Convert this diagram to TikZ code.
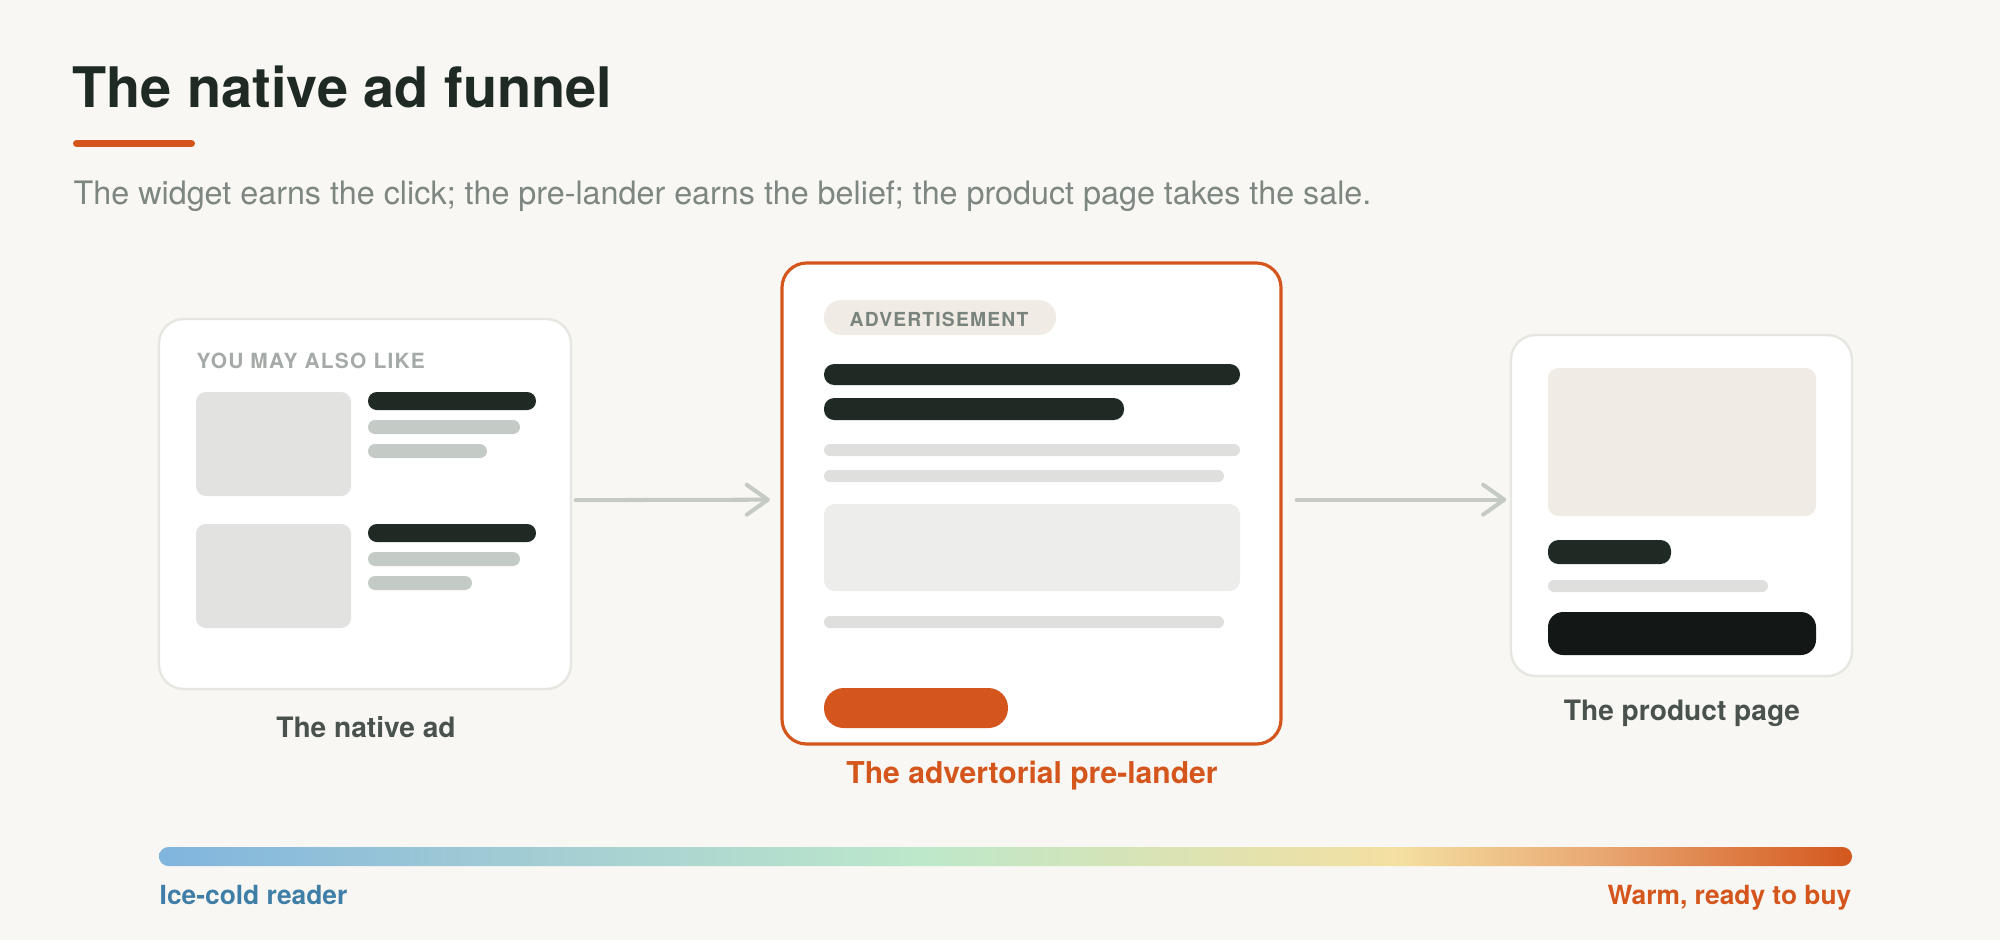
\documentclass[tikz,border=0pt]{standalone}
\usepackage{fontspec}
\setmainfont{TeX Gyre Heros}
\newfontfamily\capsfont[LetterSpace=6]{TeX Gyre Heros}
\usetikzlibrary{arrows.meta}

\definecolor{paper}{HTML}{F8F7F3}
\definecolor{ink}{HTML}{1F2A24}
\definecolor{rust}{HTML}{D4561C}
\definecolor{slate}{HTML}{7D8680}
\definecolor{labelgray}{HTML}{4A524D}
\definecolor{capsgray}{HTML}{A5AAA7}
\definecolor{tagtext}{HTML}{7A847E}
\definecolor{edge}{HTML}{E6E6E2}
\definecolor{thumb}{HTML}{E2E3E1}
\definecolor{subline}{HTML}{C4CAC6}
\definecolor{textline}{HTML}{DFE0DE}
\definecolor{block}{HTML}{EDEEEB}
\definecolor{sand}{HTML}{F0EBE4}
\definecolor{buybtn}{HTML}{131715}
\definecolor{arrowgray}{HTML}{C5CAC5}
\definecolor{coldblue}{HTML}{3F7EA6}
\definecolor{warm0}{HTML}{80B5DE}
\definecolor{warm1}{HTML}{A0CAD4}
\definecolor{warm2}{HTML}{BDE8CA}
\definecolor{warm3}{HTML}{DBE3B3}
\definecolor{warm4}{HTML}{F4E0A2}
\definecolor{warm5}{HTML}{E9A873}
\definecolor{warm6}{HTML}{D3571D}

\pgfdeclarehorizontalshading{warmth}{100bp}{color(0bp)=(warm0); color(25bp)=(warm0);
  color(35bp)=(warm1); color(47.5bp)=(warm2); color(55bp)=(warm3); color(61.5bp)=(warm4);
  color(67.5bp)=(warm5); color(75bp)=(warm6); color(100bp)=(warm6)}

\begin{document}
\begin{tikzpicture}[
        >={Straight Barb[length=6pt,width=8.5pt,round]},
        card/.style={draw=edge, line width=0.7pt, fill=white, rounded corners=7pt, inner sep=0pt},
        flow/.style={->, draw=arrowgray, line width=1.15pt, line cap=round},
        caption/.style={font=\fontsize{8}{10}\selectfont\bfseries, text=labelgray, anchor=base, inner sep=0pt},
        kicker/.style={font=\capsfont\fontsize{5.95}{7}\selectfont\bfseries, anchor=base west, inner sep=0pt},
        darkbar/.style={fill=ink, rounded corners=2.5pt},
        greybar/.style={fill=subline, rounded corners=2pt},
        lightbar/.style={fill=textline, rounded corners=1.7pt}
    ]
    % Background
    \fill[paper] (0,0) rectangle (20,-9.4);

    % Heading
    \node[anchor=base west, inner sep=0pt, font=\fontsize{15.9}{19}\selectfont\bfseries, text=ink]
      (title) at (0.72,-1.07) {The native ad funnel};
    \draw[rust, line width=2pt, line cap=round] (0.765,-1.435) -- (1.915,-1.435);
    \node[anchor=base west, inner sep=0pt, font=\fontsize{9.19}{11}\selectfont, text=slate]
      (subtitle) at (0.73,-2.04)
      {The widget earns the click; the pre-lander earns the belief; the product page takes the sale.};

    % Cards
    \node[card, minimum width=4.12cm, minimum height=3.70cm] (ad) at (3.65,-5.04) {};
    \node[card, draw=rust, line width=0.9pt, minimum width=4.99cm, minimum height=4.81cm]
      (lander) at (10.315,-5.035) {};
    \node[card, minimum width=3.41cm, minimum height=3.41cm] (product) at (16.815,-5.055) {};

    % Native ad widget
    \node[kicker, text=capsgray] (kicker) at (1.96,-3.68) {YOU MAY ALSO LIKE};
    \fill[thumb, rounded corners=2.8pt] (1.96,-3.92) rectangle (3.51,-4.96);
    \fill[darkbar] (3.68,-3.92) rectangle (5.36,-4.10);
    \fill[greybar] (3.68,-4.20) rectangle (5.20,-4.34);
    \fill[greybar] (3.68,-4.44) rectangle (4.87,-4.58);
    \fill[thumb, rounded corners=2.8pt] (1.96,-5.24) rectangle (3.51,-6.28);
    \fill[darkbar] (3.68,-5.24) rectangle (5.36,-5.42);
    \fill[greybar] (3.68,-5.52) rectangle (5.20,-5.66);
    \fill[greybar] (3.68,-5.76) rectangle (4.72,-5.90);

    % Pre-lander page
    \fill[sand, rounded corners=4.9pt] (8.24,-3.00) rectangle (10.56,-3.35);
    \node[kicker, font=\capsfont\fontsize{5.5}{7}\selectfont\bfseries, text=tagtext]
      (tag) at (8.49,-3.26) {ADVERTISEMENT};
    \fill[darkbar, rounded corners=2.9pt] (8.24,-3.64) rectangle (12.40,-3.85);
    \fill[darkbar, rounded corners=2.9pt] (8.24,-3.98) rectangle (11.24,-4.20);
    \fill[lightbar] (8.24,-4.44) rectangle (12.40,-4.56);
    \fill[lightbar] (8.24,-4.70) rectangle (12.24,-4.82);
    \fill[block, rounded corners=3pt] (8.24,-5.04) rectangle (12.40,-5.91);
    \fill[lightbar] (8.24,-6.16) rectangle (12.24,-6.28);
    \fill[rust, rounded corners=5.6pt] (8.24,-6.88) rectangle (10.08,-7.28);

    % Product page
    \fill[sand, rounded corners=3pt] (15.48,-3.68) rectangle (18.16,-5.16);
    \fill[darkbar, rounded corners=3pt] (15.48,-5.40) rectangle (16.71,-5.64);
    \fill[lightbar] (15.48,-5.80) rectangle (17.68,-5.92);
    \fill[buybtn, rounded corners=4.3pt] (15.48,-6.12) rectangle (18.16,-6.55);

    % Card captions
    \node[caption] (adlabel) at (3.66,-7.37) {The native ad};
    \node[caption, font=\fontsize{8.56}{10}\selectfont\bfseries, text=rust]
      (landerlabel) at (10.32,-7.83) {The advertorial pre-lander};
    \node[caption] (productlabel) at (16.82,-7.20) {The product page};

    % Flow arrows
    \draw[flow, shorten <=1pt, shorten >=3pt]
      ([yshift=1.1pt]ad.east) -- ([yshift=1.1pt]lander.west);
    \draw[flow, shorten <=4pt, shorten >=1pt]
      ([yshift=1.1pt]lander.east) -- ([yshift=1.1pt]lander.east -| product.west);

    % Temperature scale
    \shade[shading=warmth, rounded corners=2.7pt] (1.59,-8.47) rectangle (18.52,-8.66);
    \node[anchor=base west, inner sep=0pt, font=\fontsize{7.5}{9}\selectfont\bfseries, text=coldblue]
      (cold) at (1.59,-9.04) {Ice-cold reader};
    \node[anchor=base east, inner sep=0pt, font=\fontsize{7.5}{9}\selectfont\bfseries, text=rust]
      (warm) at (18.52,-9.04) {Warm, ready to buy};
\end{tikzpicture}
\end{document}
